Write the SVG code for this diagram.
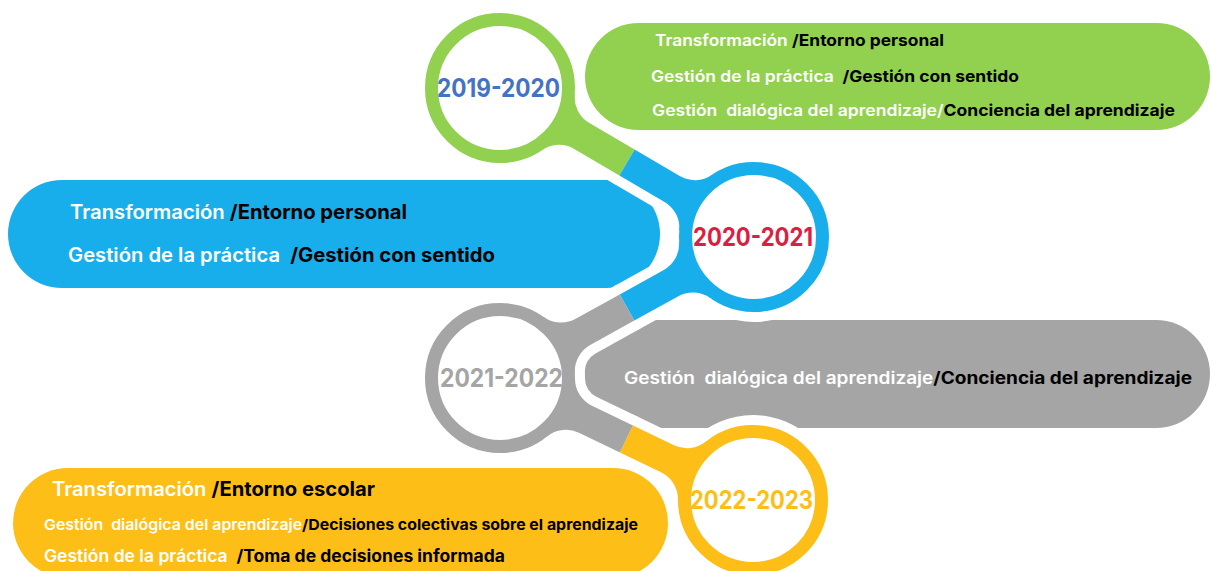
<svg xmlns="http://www.w3.org/2000/svg" xmlns:xlink="http://www.w3.org/1999/xlink" width="1211" height="571" viewBox="0 0 1211 571">
<style>
  .t { font-family: Inter, "Open Sans", "Liberation Sans", sans-serif; font-weight: 600; white-space: pre; }
  .yr { font-family: Inter, "Open Sans", "Liberation Sans", sans-serif; font-weight: 700; font-size: 25px; text-anchor: middle; }
  .w { fill: #FFFFFF; }
  .k { fill: #000000; font-weight: 700; }
  .green { fill: #92D050; }
  .blue { fill: #18AEEC; }
  .gray { fill: #A5A5A5; }
  .yellow { fill: #FDBF17; }
  .halo { fill: #FFFFFF; stroke: #FFFFFF; stroke-width: 20; stroke-linejoin: round; }
  .ring { fill: #FFFFFF; stroke-width: 13; }
</style>
<defs>
  <path id="armG" d="M542.19,150.01 A30,30 0 0 1 574.24,148.94 L619.41,175.44 L634.59,149.56 L589.42,123.06 A30,30 0 0 1 574.71,94.56 L500,88 Z"/>
  <path id="armBup" d="M711.82,174.99 A30,30 0 0 1 679.76,176.06 L634.59,149.56 L619.41,175.44 L664.58,201.94 A30,30 0 0 1 679.29,230.44 L754,237 Z"/>
  <path id="armBdn" d="M679.16,241.79 A30,30 0 0 1 663.77,269.93 L619.72,294.39 L634.28,320.62 L678.33,296.16 A30,30 0 0 1 710.35,297.99 L754,237 Z"/>
  <path id="armRup" d="M574.84,373.21 A30,30 0 0 1 590.23,345.07 L634.28,320.62 L619.72,294.39 L575.67,318.84 A30,30 0 0 1 543.65,317.01 L500,378 Z"/>
  <path id="armRdn" d="M547.07,436.38 A30,30 0 0 1 578.94,432.72 L619.99,452.51 L633.02,425.49 L591.97,405.70 A30,30 0 0 1 574.99,378.48 L500,378 Z"/>
  <path id="armYup" d="M705.93,441.62 A30,30 0 0 1 674.06,445.28 L633.02,425.49 L619.99,452.51 L661.03,472.30 A30,30 0 0 1 678.01,499.52 L753,500 Z"/>
</defs>

<!-- pills -->
<g id="pill-2019-2020">
  <rect class="green" x="585" y="23" width="625" height="107" rx="53.5"/>
  <text class="t" x="655" y="45.5" font-size="16" textLength="289" lengthAdjust="spacingAndGlyphs"><tspan class="w">Transformación </tspan><tspan class="k">/Entorno personal</tspan></text>
  <text class="t" x="651" y="81.5" font-size="16" textLength="368" lengthAdjust="spacingAndGlyphs"><tspan class="w">Gestión de la práctica  </tspan><tspan class="k">/Gestión con sentido</tspan></text>
  <text class="t" x="652" y="115.5" font-size="16" textLength="523" lengthAdjust="spacingAndGlyphs"><tspan class="w">Gestión  dialógica del aprendizaje/</tspan><tspan class="k">Conciencia del aprendizaje</tspan></text>
</g>
<g id="pill-2020-2021">
  <rect class="blue" x="8" y="180" width="652" height="108" rx="54"/>
  <text class="t" x="70" y="219" font-size="19.5" textLength="337" lengthAdjust="spacingAndGlyphs"><tspan class="w">Transformación </tspan><tspan class="k">/Entorno personal</tspan></text>
  <text class="t" x="68" y="262" font-size="19.5" textLength="427" lengthAdjust="spacingAndGlyphs"><tspan class="w">Gestión de la práctica  </tspan><tspan class="k">/Gestión con sentido</tspan></text>
</g>
<g id="pill-2021-2022">
  <rect class="gray" x="577" y="320" width="633" height="108" rx="54"/>
  <text class="t" x="624" y="383.5" font-size="17" textLength="568" lengthAdjust="spacingAndGlyphs"><tspan class="w">Gestión  dialógica del aprendizaje</tspan><tspan class="k">/Conciencia del aprendizaje</tspan></text>
</g>
<g id="pill-2022-2023">
  <rect class="yellow" x="13" y="468" width="655" height="110" rx="55"/>
  <text class="t" x="52" y="496" font-size="19.5" textLength="323" lengthAdjust="spacingAndGlyphs"><tspan class="w">Transformación </tspan><tspan class="k">/Entorno escolar</tspan></text>
  <text class="t" x="44" y="529.5" font-size="15" textLength="594" lengthAdjust="spacingAndGlyphs"><tspan class="w">Gestión  dialógica del aprendizaje</tspan><tspan class="k">/Decisiones colectivas sobre el aprendizaje</tspan></text>
  <text class="t" x="44" y="562" font-size="17" textLength="461" lengthAdjust="spacingAndGlyphs"><tspan class="w">Gestión de la práctica  </tspan><tspan class="k">/Toma de decisiones informada</tspan></text>
</g>

<!-- white halo under connectors and rings -->
<g id="halo">
  <use xlink:href="#armG" class="halo"/>
  <use xlink:href="#armBup" class="halo"/>
  <use xlink:href="#armBdn" class="halo"/>
  <use xlink:href="#armRup" class="halo"/>
  <use xlink:href="#armRdn" class="halo"/>
  <use xlink:href="#armYup" class="halo"/>
  <circle cx="500" cy="88" r="85" fill="#FFFFFF"/>
  <circle cx="754" cy="237" r="85" fill="#FFFFFF"/>
  <circle cx="500" cy="378" r="85" fill="#FFFFFF"/>
  <circle cx="753" cy="500" r="85" fill="#FFFFFF"/>
</g>

<!-- connectors -->
<g id="connectors">
  <use xlink:href="#armG" class="green"/>
  <use xlink:href="#armBup" class="blue"/>
  <use xlink:href="#armBdn" class="blue"/>
  <use xlink:href="#armRup" class="gray"/>
  <use xlink:href="#armRdn" class="gray"/>
  <use xlink:href="#armYup" class="yellow"/>
</g>

<!-- year nodes -->
<g id="node-2019-2020">
  <circle class="ring" cx="500" cy="88" r="68.5" stroke="#92D050"/>
  <text class="yr" x="498.5" y="97" fill="#4472C4" textLength="123" lengthAdjust="spacingAndGlyphs">2019-2020</text>
</g>
<g id="node-2020-2021">
  <circle class="ring" cx="754" cy="237" r="68.5" stroke="#18AEEC"/>
  <text class="yr" x="753" y="246" fill="#DC1E41" textLength="120" lengthAdjust="spacingAndGlyphs">2020-2021</text>
</g>
<g id="node-2021-2022">
  <circle class="ring" cx="500" cy="378" r="68.5" stroke="#A5A5A5"/>
  <text class="yr" x="501.5" y="387" fill="#A5A5A5" textLength="123" lengthAdjust="spacingAndGlyphs">2021-2022</text>
</g>
<g id="node-2022-2023">
  <circle class="ring" cx="753" cy="500" r="68.5" stroke="#FDBF17"/>
  <text class="yr" x="751.5" y="509" fill="#FDBF17" textLength="123" lengthAdjust="spacingAndGlyphs">2022-2023</text>
</g>
</svg>
